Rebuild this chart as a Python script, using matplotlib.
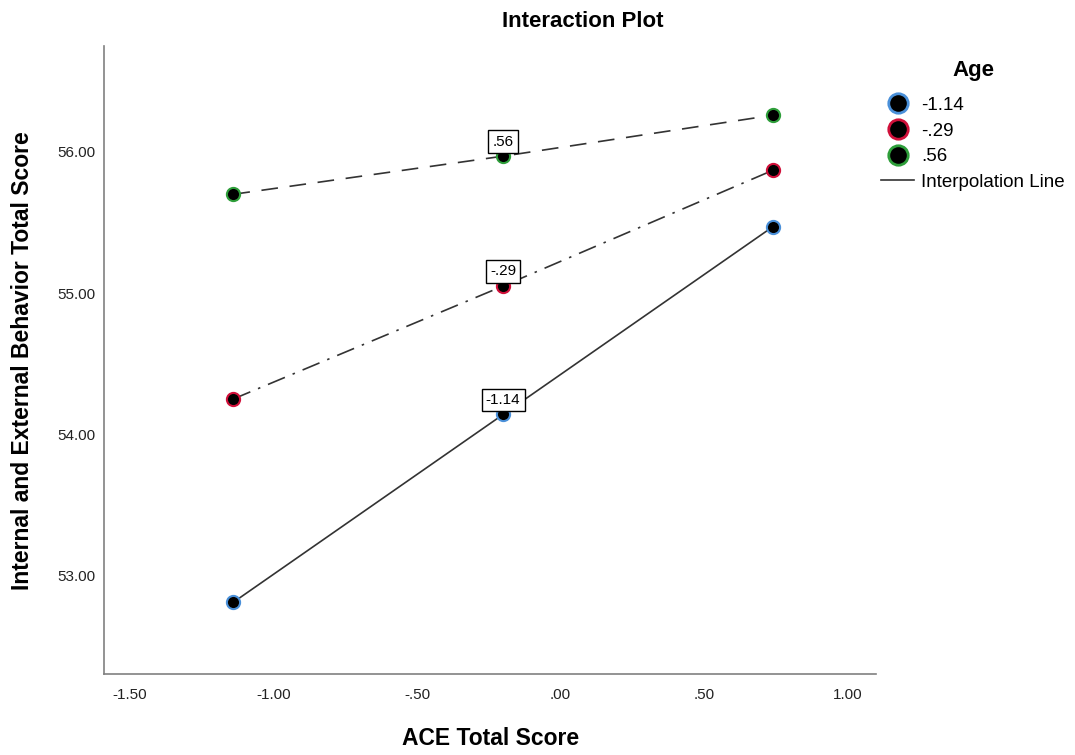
import matplotlib
matplotlib.use("Agg")
import matplotlib.pyplot as plt
from matplotlib.lines import Line2D

plt.rcParams['font.family'] = ['Liberation Sans', 'DejaVu Sans']

ace = [-1.14, -0.20, 0.74]
age_levels = ['-1.14', '-.29', '.56']
scores = {
    '-1.14': [52.81, 54.14, 55.47],
    '-.29': [54.25, 55.05, 55.87],
    '.56': [55.70, 55.97, 56.26],
}
edge_colors = {'-1.14': '#4a90d9', '-.29': '#d0103a', '.56': '#2e9e3a'}
line_styles = {'-1.14': '-', '-.29': (0, (11, 5, 1.5, 5)), '.56': (0, (10, 7))}
x_ticks = [-1.5, -1.0, -0.5, 0.0, 0.5, 1.0]
x_tick_labels = ['-1.50', '-1.00', '-.50', '.00', '.50', '1.00']
y_ticks = [53, 54, 55, 56]
y_tick_labels = ['53.00', '54.00', '55.00', '56.00']

fig = plt.figure(figsize=(10.75, 7.55), dpi=100)
ax = fig.add_axes([0.097, 0.107, 0.718, 0.832])

for lvl in age_levels:
    ax.plot(ace, scores[lvl], color='#333333', lw=1.2, ls=line_styles[lvl], zorder=2)
    ax.plot(ace, scores[lvl], ls='none', marker='o', ms=9.5, mfc='black',
            mec=edge_colors[lvl], mew=1.5, zorder=3)
    ax.annotate(lvl, (ace[1], scores[lvl][1]), xytext=(0, 10.5), textcoords='offset points',
                ha='center', va='center', fontsize=11, zorder=4,
                bbox=dict(boxstyle='square,pad=0.28', fc='white', ec='black', lw=1))

ax.set_xlim(-1.59, 1.10)
ax.set_ylim(52.30, 56.75)
ax.set_xticks(x_ticks)
ax.set_xticklabels(x_tick_labels)
ax.set_yticks(y_ticks)
ax.set_yticklabels(y_tick_labels)
ax.tick_params(length=0, labelsize=11, colors='#222222')
ax.tick_params(axis='x', pad=10)
ax.tick_params(axis='y', pad=6)
for s in ['top', 'right']:
    ax.spines[s].set_visible(False)
for s in ['left', 'bottom']:
    ax.spines[s].set_color('#808080')
    ax.spines[s].set_linewidth(1.2)

fig.text(0.456, 0.0225, 'ACE Total Score', ha='center', va='center',
         fontsize=16.5, fontweight='bold')
fig.text(0.021, 0.523, 'Internal and External Behavior Total Score', ha='center',
         va='center', rotation=90, fontsize=16.5, fontweight='bold')
fig.text(0.542, 0.972, 'Interaction Plot', ha='center', va='center',
         fontsize=16, fontweight='bold')

handles = [Line2D([], [], ls='none', marker='o', ms=14, mfc='black',
                  mec=edge_colors[l], mew=2) for l in age_levels]
handles.append(Line2D([], [], color='#333333', lw=1.2))
labels = age_levels + ['Interpolation Line']
leg = fig.legend(handles, labels, title='Age', loc='upper left',
                 bbox_to_anchor=(0.813, 0.93), frameon=False, fontsize=13.5,
                 title_fontproperties={'weight': 'bold', 'size': 16},
                 handlelength=1.75, handletextpad=0.37, labelspacing=0.46,
                 borderaxespad=0)
leg._legend_box.align = 'center'
leg._legend_box.sep = 11

fig.savefig('out.png', dpi=100)
